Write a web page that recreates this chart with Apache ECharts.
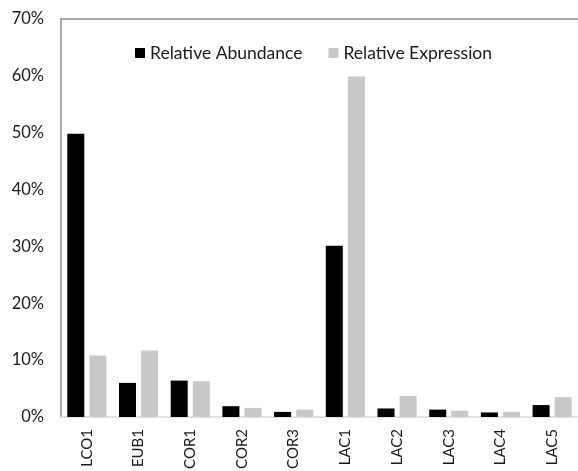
<!DOCTYPE html>
<html>
<head>
<meta charset="utf-8">
<script src="https://cdn.jsdelivr.net/npm/echarts@6/dist/echarts.min.js"></script>
<style>
  html, body { margin: 0; padding: 0; background: #fff; }
  #chart { width: 578px; height: 471px; }
</style>
</head>
<body>
<div id="chart"></div>
<script>
  // Values in percent.
  var categories = ["LCO1", "EUB1", "COR1", "COR2", "COR3", "LAC1", "LAC2", "LAC3", "LAC4", "LAC5"];
  var abundance = [49.8, 6.0, 6.4, 1.9, 0.9, 30.1, 1.5, 1.3, 0.8, 2.1];
  var expression = [10.8, 11.7, 6.3, 1.6, 1.3, 59.9, 3.7, 1.1, 0.9, 3.5];

  var FONT = "Lato, 'Open Sans', sans-serif";
  var chart = echarts.init(document.getElementById("chart"), null, { renderer: "canvas" });

  chart.setOption({
    animation: false,
    textStyle: { fontFamily: FONT },
    grid: { left: 61, right: 0, top: 19, bottom: 54, outerBoundsMode: "none", containLabel: false },
    legend: {
      top: 39, left: 130,
      itemWidth: 10, itemHeight: 10, itemGap: 26,
      icon: "rect",
      textStyle: { fontSize: 17.5, color: "#1a1a1a", fontFamily: FONT },
      data: ["Relative Abundance", "Relative Expression"]
    },
    xAxis: [{
      type: "category",
      data: categories,
      axisLine: { lineStyle: { color: "#d9d9d9", width: 1.5 } },
      axisTick: { show: false },
      axisLabel: { rotate: 90, fontSize: 15, color: "#1a1a1a", margin: 12, fontFamily: FONT }
    }, {
      type: "category",
      position: "top",
      data: categories,
      axisLine: { show: true, lineStyle: { color: "#8c8c8c", width: 1.5 } },
      axisTick: { show: false },
      axisLabel: { show: false }
    }],
    yAxis: {
      type: "value",
      min: 0, max: 70, interval: 10,
      axisLine: { show: true, lineStyle: { color: "#8c8c8c", width: 1.5 } },
      axisTick: { show: false },
      splitLine: { show: false },
      axisLabel: {
        fontSize: 16.5, color: "#1a1a1a", margin: 17, fontFamily: FONT,
        formatter: function (v) { return v + "%"; }
      }
    },
    series: [{
      name: "Relative Abundance",
      type: "bar",
      data: abundance,
      barWidth: 17,
      barGap: "30%",
      itemStyle: { color: "#000" }
    }, {
      name: "Relative Expression",
      type: "bar",
      data: expression,
      barWidth: 17,
      itemStyle: { color: "#c8c8c8" }
    }]
  });
</script>
</body>
</html>
